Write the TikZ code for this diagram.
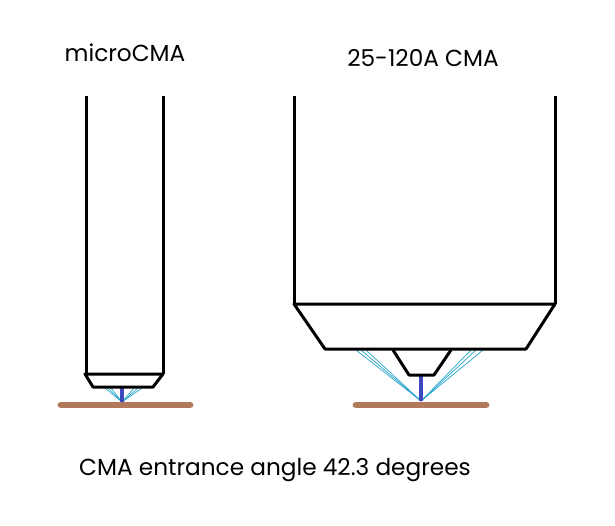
\documentclass[tikz,border=0pt]{standalone}
\usepackage{fontspec}
\setmainfont{Poppins}
\definecolor{surf}{RGB}{178,122,90}
\definecolor{beam}{RGB}{62,72,190}
\definecolor{ray}{RGB}{40,165,205}
\tikzset{
  body/.style={line width=3pt,black,line cap=butt,line join=round},
  surface/.style={line width=6.8pt,surf,line cap=round},
  ebeam/.style={line width=3.2pt,beam},
  rays/.style={line width=0.7pt,ray},
  lab/.style={inner sep=0pt,font=\fontsize{23.2}{28}\selectfont,text=black}
}
\begin{document}
\begin{tikzpicture}[x=1pt,y=-1pt]
\useasboundingbox (0,0) rectangle (615,526);
\fill[white] (0,0) rectangle (615,526);
% microCMA
\draw[surface] (61,405) -- (190,405);
\foreach \x in {105,108,111,134,138,142} \draw[rays] (122,402) -- (\x,388);
\draw[ebeam] (122,387) -- (122,402);
\draw[body] (86,96) -- (86,374) (163,96) -- (163,374);
\draw[body] (85,374) -- (163,374) -- (153,387) -- (93,387) -- cycle;
% 25-120A CMA
\draw[surface] (356,405) -- (486,405);
\foreach \x in {356,361,366,471,476,483} \draw[rays] (421,401) -- (\x,350);
\draw[ebeam] (421,375) -- (421,401);
\draw[body] (294,96) -- (294,304) (555,96) -- (555,304);
\draw[body] (294,304) -- (555,304) -- (526,349) -- (325,349) -- cycle;
\draw[body] (393,350) -- (409,375) -- (434,375) -- (451,350);
% labels
\node[lab] (t1) at (125,53) {microCMA};
\node[lab] (t2) at (423,58) {25-120A CMA};
\node[lab] (t3) at (275,470) {CMA entrance angle 42.3 degrees};
\end{tikzpicture}
\end{document}
